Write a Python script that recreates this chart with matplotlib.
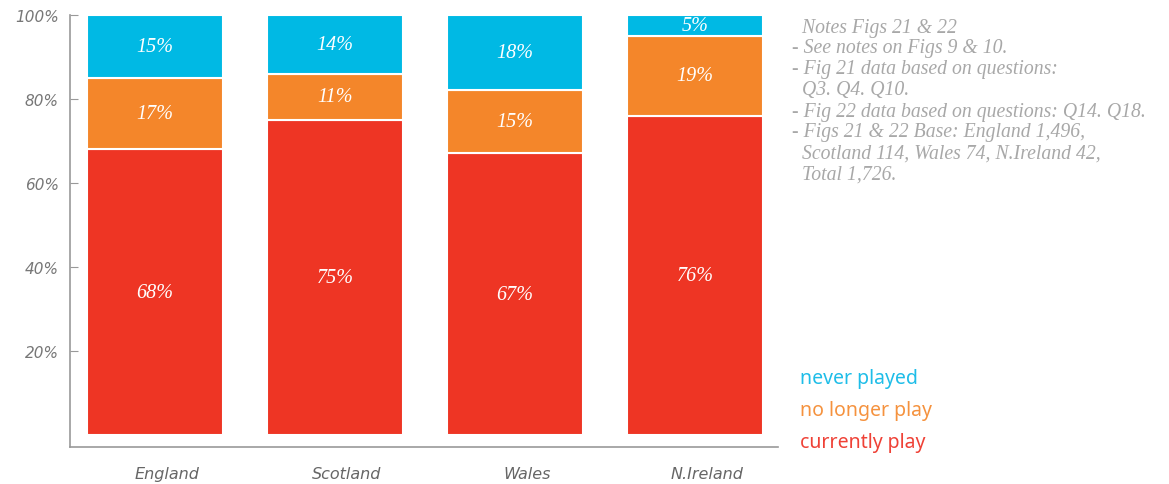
import matplotlib
matplotlib.use("Agg")
import matplotlib.pyplot as plt
import matplotlib.transforms as mtransforms
import numpy as np

countries = ["England", "Scotland", "Wales", "N.Ireland"]
currently_play = [68, 75, 67, 76]
no_longer_play = [17, 11, 15, 19]
never_played = [15, 14, 18, 5]

series_names = ["currently play", "no longer play", "never played"]
bar_colors = ["#ee3524", "#f4862a", "#00b9e4"]
text_colors = ["#ef4136", "#f5923e", "#1ebde8"]

notes = [
    "  Notes Figs 21 & 22",
    "- See notes on Figs 9 & 10.",
    "- Fig 21 data based on questions:",
    "  Q3. Q4. Q10.",
    "- Fig 22 data based on questions: Q14. Q18.",
    "- Figs 21 & 22 Base: England 1,496,",
    "  Scotland 114, Wales 74, N.Ireland 42,",
    "  Total 1,726.",
]

fig = plt.figure(figsize=(11.69, 4.85), dpi=100)
ax = fig.add_axes([0.0599, 0.0763, 0.6056, 0.891])

x = np.arange(len(countries))
bottom = np.zeros(len(countries))
for vals, color in zip([currently_play, no_longer_play, never_played], bar_colors):
    vals = np.array(vals)
    ax.bar(x, vals, width=0.755, bottom=bottom, color=color,
           edgecolor="white", linewidth=1.5)
    for xi, b, v in zip(x, bottom, vals):
        ax.text(xi, b + v / 2, f"{v}%", ha="center", va="center",
                color="white", fontsize=14.5, style="italic",
                family="Liberation Serif")
    bottom += vals

ax.set_xlim(-0.47, 3.46)
ax.set_ylim(-2.86, 100)
ax.set_yticks([20, 40, 60, 80, 100])
ax.set_yticklabels([f"{v}%" for v in [20, 40, 60, 80, 100]],
                   fontsize=11, style="italic", color="#777777")
ax.set_xticks(x)
ax.set_xticklabels(countries, fontsize=11.5, style="italic", color="#666666")
ax.tick_params(axis="y", direction="in", length=6, color="#999999", pad=8)
ax.tick_params(axis="x", length=0, pad=14)
# category labels sit a little right of bar centres in the original
shift = mtransforms.ScaledTranslation(12 / 100, 0, fig.dpi_scale_trans)
for lbl in ax.get_xticklabels():
    lbl.set_transform(lbl.get_transform() + shift)
for s in ["top", "right"]:
    ax.spines[s].set_visible(False)
for s in ["left", "bottom"]:
    ax.spines[s].set_color("#999999")
    ax.spines[s].set_linewidth(1.2)

for i, line in enumerate(notes):
    fig.text(792 / 1169, 1 - (28 + i * 21) / 485, line, ha="left", va="center",
             fontsize=14.2, style="italic", color="#a8a8a8",
             family="Liberation Serif")

for i, (name, c) in enumerate(zip(series_names[::-1], text_colors[::-1])):
    fig.text(800 / 1169, 1 - (379 + i * 32) / 485, name, ha="left", va="center",
             fontsize=14, color=c, family="Noto Sans")

fig.savefig("out.png", dpi=100)
